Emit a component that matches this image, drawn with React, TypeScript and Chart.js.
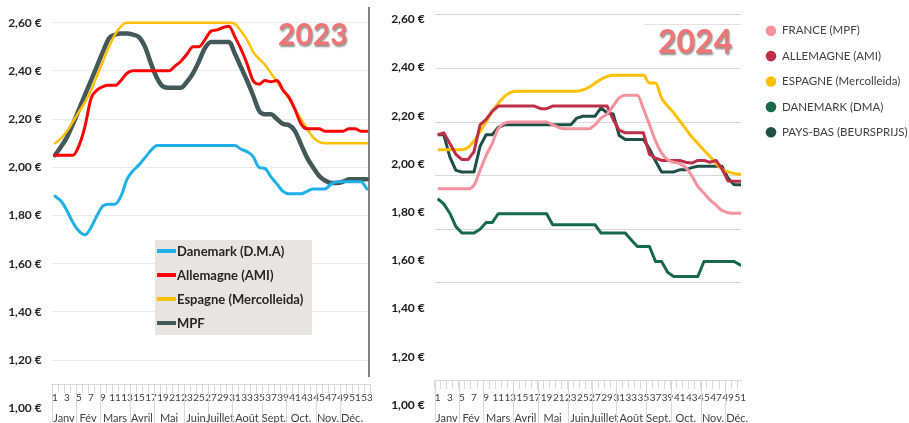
import React, { useEffect, useRef } from 'react';
import { Chart, registerables } from 'chart.js';

Chart.register(...registerables);

// ---------- shared categories ----------
const MONTHS = ['Janv', 'Fév', 'Mars', 'Avril', 'Mai', 'Juin', 'Juillet', 'Août', 'Sept.', 'Oct.', 'Nov.', 'Déc.'];
const MONTH_WEEKS = [4, 4, 5, 4, 5, 4, 4, 5, 4, 5, 4, 4];
const Y_TICKS = [1.0, 1.2, 1.4, 1.6, 1.8, 2.0, 2.2, 2.4, 2.6];
const GRID_TICKS_2024 = [1.6, 1.8, 2.0, 2.2, 2.4, 2.6];

// ---------- 2023 (left) ----------
const WEEKS_2023 = [1, 2, 3, 4, 5, 6, 7, 8, 9, 10, 11, 12, 13, 14, 15, 16, 17, 18, 19, 20, 21, 22, 23, 24, 25, 26, 27, 28, 29, 30, 31, 32, 33, 34, 35, 36, 37, 38, 39, 40, 41, 42, 43, 44, 45, 46, 47, 48, 49, 50, 51, 52, 53];
const DANEMARK_2023 = [1.88, 1.86, 1.82, 1.77, 1.735, 1.72, 1.75, 1.80, 1.84, 1.847, 1.847, 1.88, 1.95, 1.985, 2.01, 2.04, 2.07, 2.09, 2.09, 2.09, 2.09, 2.09, 2.09, 2.09, 2.09, 2.09, 2.09, 2.09, 2.09, 2.09, 2.09, 2.075, 2.065, 2.045, 2.0, 1.995, 1.96, 1.93, 1.90, 1.89, 1.89, 1.89, 1.90, 1.91, 1.91, 1.91, 1.93, 1.94, 1.94, 1.94, 1.94, 1.94, 1.91];
const ALLEMAGNE_2023 = [2.05, 2.05, 2.05, 2.05, 2.09, 2.17, 2.285, 2.32, 2.335, 2.34, 2.34, 2.36, 2.39, 2.40, 2.40, 2.40, 2.40, 2.40, 2.40, 2.40, 2.42, 2.44, 2.47, 2.50, 2.50, 2.53, 2.565, 2.57, 2.58, 2.585, 2.54, 2.49, 2.43, 2.36, 2.345, 2.36, 2.355, 2.36, 2.32, 2.29, 2.24, 2.18, 2.16, 2.16, 2.16, 2.15, 2.15, 2.15, 2.15, 2.16, 2.16, 2.15, 2.15];
const ESPAGNE_2023 = [2.10, 2.12, 2.15, 2.19, 2.23, 2.27, 2.32, 2.38, 2.44, 2.50, 2.55, 2.585, 2.60, 2.60, 2.60, 2.60, 2.60, 2.60, 2.60, 2.60, 2.60, 2.60, 2.60, 2.60, 2.60, 2.60, 2.60, 2.60, 2.60, 2.60, 2.595, 2.565, 2.53, 2.48, 2.45, 2.425, 2.39, 2.355, 2.32, 2.285, 2.24, 2.20, 2.16, 2.125, 2.105, 2.10, 2.10, 2.10, 2.10, 2.10, 2.10, 2.10, 2.10];
const MPF_2023 = [2.05, 2.085, 2.125, 2.18, 2.24, 2.30, 2.36, 2.42, 2.48, 2.535, 2.55, 2.555, 2.555, 2.55, 2.54, 2.50, 2.43, 2.37, 2.335, 2.33, 2.33, 2.33, 2.355, 2.39, 2.44, 2.495, 2.52, 2.52, 2.52, 2.52, 2.47, 2.415, 2.36, 2.30, 2.235, 2.22, 2.22, 2.20, 2.18, 2.175, 2.15, 2.095, 2.04, 2.0, 1.965, 1.945, 1.935, 1.935, 1.94, 1.95, 1.95, 1.95, 1.95];

// ---------- 2024 (right) ----------
const WEEKS_2024 = [1, 2, 3, 4, 5, 6, 7, 8, 9, 10, 11, 12, 13, 14, 15, 16, 17, 18, 19, 20, 21, 22, 23, 24, 25, 26, 27, 28, 29, 30, 31, 32, 33, 34, 35, 36, 37, 38, 39, 40, 41, 42, 43, 44, 45, 46, 47, 48, 49, 50, 51, 52];
const FRANCE_2024 = [1.951, 1.951, 1.951, 1.951, 1.951, 1.951, 1.965, 2.02, 2.075, 2.12, 2.175, 2.195, 2.20, 2.20, 2.20, 2.20, 2.20, 2.20, 2.20, 2.19, 2.18, 2.175, 2.175, 2.175, 2.175, 2.175, 2.19, 2.215, 2.23, 2.26, 2.29, 2.30, 2.30, 2.30, 2.25, 2.19, 2.13, 2.085, 2.06, 2.05, 2.045, 2.03, 2.0, 1.96, 1.935, 1.91, 1.89, 1.87, 1.862, 1.86, 1.86, 1.86];
const ALLEMAGNE_2024 = [2.153, 2.16, 2.12, 2.08, 2.06, 2.06, 2.09, 2.19, 2.21, 2.24, 2.26, 2.26, 2.26, 2.26, 2.26, 2.26, 2.26, 2.25, 2.25, 2.26, 2.26, 2.26, 2.26, 2.26, 2.26, 2.26, 2.26, 2.26, 2.26, 2.21, 2.17, 2.16, 2.16, 2.16, 2.16, 2.08, 2.065, 2.057, 2.057, 2.057, 2.057, 2.05, 2.047, 2.057, 2.057, 2.05, 2.057, 2.025, 1.98, 1.979, 1.979, 1.979];
const ESPAGNE_2024 = [2.097, 2.097, 2.097, 2.097, 2.097, 2.105, 2.13, 2.165, 2.20, 2.24, 2.27, 2.295, 2.31, 2.315, 2.315, 2.315, 2.315, 2.315, 2.315, 2.315, 2.315, 2.315, 2.315, 2.315, 2.32, 2.33, 2.345, 2.36, 2.37, 2.375, 2.375, 2.375, 2.375, 2.375, 2.375, 2.346, 2.346, 2.29, 2.26, 2.235, 2.205, 2.175, 2.145, 2.12, 2.095, 2.072, 2.045, 2.025, 2.014, 2.008, 2.005, 2.0];
const DANEMARK_2024 = [1.914, 1.895, 1.86, 1.81, 1.786, 1.786, 1.786, 1.80, 1.825, 1.825, 1.858, 1.858, 1.858, 1.858, 1.858, 1.858, 1.858, 1.858, 1.858, 1.817, 1.817, 1.817, 1.817, 1.817, 1.817, 1.817, 1.817, 1.786, 1.786, 1.786, 1.786, 1.786, 1.76, 1.736, 1.736, 1.736, 1.68, 1.68, 1.64, 1.624, 1.624, 1.624, 1.624, 1.624, 1.68, 1.68, 1.68, 1.68, 1.68, 1.68, 1.667, 1.667];
const PAYS_BAS_2024 = [2.153, 2.153, 2.07, 2.02, 2.014, 2.014, 2.014, 2.11, 2.153, 2.153, 2.18, 2.19, 2.19, 2.19, 2.19, 2.19, 2.19, 2.19, 2.19, 2.19, 2.19, 2.19, 2.19, 2.215, 2.222, 2.222, 2.222, 2.253, 2.234, 2.23, 2.15, 2.135, 2.135, 2.135, 2.135, 2.10, 2.055, 2.014, 2.014, 2.014, 2.022, 2.022, 2.03, 2.035, 2.035, 2.035, 2.035, 2.035, 1.99, 1.966, 1.966, 1.966];

const AXIS_CROSS = 1.1;
const RIGHT_CANVAS_LEFT = 372;

const fmtEuro = (v: number) => v.toFixed(2).replace('.', ',') + ' €';
const pts = (weeks: number[], vals: number[]) => weeks.map((w, i) => ({ x: w, y: vals[i] }));

function drawMonths(chart: any) {
  const { ctx, chartArea } = chart;
  const x = chart.scales.x;
  const y = chart.scales.y;
  const axisY = Math.round(y.getPixelForValue(AXIS_CROSS)) + 0.5;
  ctx.save();
  ctx.strokeStyle = '#d9d9d9';
  ctx.lineWidth = 1;
  ctx.fillStyle = '#404040';
  ctx.font = '11px Lato';
  ctx.textAlign = 'center';
  ctx.textBaseline = 'middle';
  let start = 1;
  MONTH_WEEKS.forEach((n, i) => {
    const end = start + n - 1;
    const left = x.getPixelForValue(start - 0.5);
    const right = x.getPixelForValue(end + 0.5);
    if (left >= chartArea.left - 1 && left <= chartArea.right + 1) {
      const sx = Math.round(left) + 0.5;
      ctx.beginPath();
      ctx.moveTo(sx, axisY);
      ctx.lineTo(sx, chart.height);
      ctx.stroke();
    }
    ctx.fillText(MONTHS[i], (left + right) / 2, chart.height - 5);
    start = end + 1;
  });
  ctx.restore();
}

function drawTitle(ctx: CanvasRenderingContext2D, text: string, x: number, baseline: number, size: number) {
  ctx.save();
  ctx.font = `bold ${size}px Lato`;
  ctx.textAlign = 'left';
  ctx.textBaseline = 'alphabetic';
  ctx.shadowColor = 'rgba(0,0,0,0.45)';
  ctx.shadowOffsetX = 1;
  ctx.shadowOffsetY = 1.5;
  ctx.shadowBlur = 2;
  ctx.fillStyle = '#f07474';
  ctx.fillText(text, x, baseline);
  ctx.restore();
}

const decorLeft = {
  id: 'decorLeft',
  afterDraw(chart: any) {
    const { ctx, chartArea } = chart;
    const y = chart.scales.y;
    drawMonths(chart);
    // right frame line
    ctx.save();
    ctx.strokeStyle = '#5a5a5a';
    ctx.lineWidth = 1.5;
    ctx.beginPath();
    ctx.moveTo(chartArea.right - 1, chartArea.top);
    ctx.lineTo(chartArea.right - 1, y.getPixelForValue(1.13));
    ctx.stroke();
    ctx.restore();
    drawTitle(ctx, '2023', 278, 45, 30);
    // legend box
    ctx.save();
    ctx.fillStyle = '#e7e4e1';
    ctx.fillRect(155, 240, 157, 95);
    chart.data.datasets.forEach((ds: any, i: number) => {
      const cy = 251 + i * 24;
      ctx.strokeStyle = ds.borderColor;
      ctx.lineWidth = 4;
      ctx.beginPath();
      ctx.moveTo(157, cy);
      ctx.lineTo(176, cy);
      ctx.stroke();
      ctx.fillStyle = '#262626';
      ctx.font = 'bold 13px Lato';
      ctx.textAlign = 'left';
      ctx.textBaseline = 'middle';
      ctx.fillText(ds.label, 177, cy + 0.5);
    });
    ctx.restore();
  },
};

const decorRight = {
  id: 'decorRight',
  afterDraw(chart: any) {
    const { ctx } = chart;
    drawMonths(chart);
    // title box top edge
    ctx.save();
    ctx.strokeStyle = '#e3e3e3';
    ctx.lineWidth = 1;
    ctx.beginPath();
    ctx.moveTo(644 - RIGHT_CANVAS_LEFT, 24.5);
    ctx.lineTo(741 - RIGHT_CANVAS_LEFT, 24.5);
    ctx.stroke();
    ctx.restore();
    drawTitle(ctx, '2024', 658 - RIGHT_CANVAS_LEFT, 53, 32);
    // legend
    ctx.save();
    chart.data.datasets.forEach((ds: any, i: number) => {
      const cy = 30.7 + i * 25.4;
      ctx.fillStyle = ds.borderColor;
      ctx.beginPath();
      ctx.arc(771 - RIGHT_CANVAS_LEFT, cy, 5.3, 0, Math.PI * 2);
      ctx.fill();
      ctx.fillStyle = '#404040';
      ctx.font = '11.5px Lato';
      ctx.textAlign = 'left';
      ctx.textBaseline = 'middle';
      ctx.fillText(ds.label, 782 - RIGHT_CANVAS_LEFT, cy);
    });
    ctx.restore();
  },
};

function xScale(weeks: number[], min: number, max: number, labelPad: number) {
  return {
    type: 'linear',
    position: { y: AXIS_CROSS },
    min,
    max,
    afterBuildTicks: (s: any) => {
      s.ticks = weeks.map((w) => ({ value: w }));
    },
    afterFit: (s: any) => {
      s.paddingLeft = 0;
      s.paddingRight = 0;
    },
    ticks: {
      autoSkip: false,
      maxRotation: 0,
      minRotation: 0,
      padding: labelPad,
      color: '#404040',
      font: { family: 'Lato', size: 10 },
      callback: (v: number) => (v % 2 === 1 ? String(v) : ''),
    },
    grid: { drawOnChartArea: false, drawTicks: true, tickLength: 8, color: '#d9d9d9', offset: true },
    border: { display: true, color: '#d9d9d9', width: 1 },
  };
}

function leftConfig(): any {
  const line = (label: string, vals: number[], color: string, width: number) => ({
    label,
    data: pts(WEEKS_2023, vals),
    borderColor: color,
    backgroundColor: color,
    borderWidth: width,
    pointRadius: 0,
    cubicInterpolationMode: 'monotone',
    borderCapStyle: 'round',
    borderJoinStyle: 'round',
  });
  return {
    type: 'line',
    data: {
      datasets: [
        line('Danemark (D.M.A)', DANEMARK_2023, '#1fb0ea', 3),
        line('Allemagne (AMI)', ALLEMAGNE_2023, '#ff0000', 3),
        line('Espagne (Mercolleida)', ESPAGNE_2023, '#ffc000', 2.5),
        line('MPF', MPF_2023, '#435858', 4.5),
      ],
    },
    options: {
      animation: false,
      responsive: false,
      maintainAspectRatio: false,
      layout: { padding: { left: 0, right: 2, top: 7, bottom: 14.7 } },
      plugins: { legend: { display: false }, tooltip: { enabled: false } },
      scales: {
        x: xScale(WEEKS_2023, 0.45, 53.5, 0),
        y: {
          min: 1.0,
          max: 2.665,
          afterBuildTicks: (s: any) => {
            s.ticks = Y_TICKS.map((v) => ({ value: v }));
          },
          afterFit: (s: any) => {
            s.width = 51.7;
            s.paddingTop = 0;
            s.paddingBottom = 0;
          },
          ticks: {
            padding: 10,
            color: '#262626',
            font: { family: 'Lato', size: 12, weight: 'bold' },
            callback: (v: number) => fmtEuro(v),
          },
          grid: {
            drawTicks: false,
            color: (c: any) => (c.tick && c.tick.value > 1.05 ? '#ebebeb' : 'rgba(0,0,0,0)'),
          },
          border: { display: false },
        },
      },
    },
    plugins: [decorLeft],
  };
}

function rightConfig(): any {
  const line = (label: string, vals: number[], color: string, smooth: boolean) => ({
    label,
    data: pts(WEEKS_2024, vals),
    yAxisID: 'y2',
    borderColor: color,
    backgroundColor: color,
    borderWidth: 3,
    pointRadius: 0,
    cubicInterpolationMode: smooth ? 'monotone' : 'default',
    tension: 0,
    borderJoinStyle: 'round',
  });
  return {
    type: 'line',
    data: {
      datasets: [
        line('FRANCE (MPF)', FRANCE_2024, '#f4929d', true),
        line('ALLEMAGNE (AMI)', ALLEMAGNE_2024, '#be2f47', false),
        line('ESPAGNE (Mercolleida)', ESPAGNE_2024, '#ffc000', true),
        line('DANEMARK (DMA)', DANEMARK_2024, '#17694c', false),
        line('PAYS-BAS (BEURSPRIJS)', PAYS_BAS_2024, '#1d4f45', false),
      ],
    },
    options: {
      animation: false,
      responsive: false,
      maintainAspectRatio: false,
      layout: { padding: { left: 0, right: 168, top: 14.9, bottom: 18 } },
      plugins: { legend: { display: false }, tooltip: { enabled: false } },
      scales: {
        x: xScale(WEEKS_2024, 0.5, 51.13, 3),
        y: {
          position: 'left',
          min: 1.0,
          max: 2.6187,
          afterBuildTicks: (s: any) => {
            s.ticks = Y_TICKS.map((v) => ({ value: v }));
          },
          afterFit: (s: any) => {
            s.width = 62.7;
            s.paddingTop = 0;
            s.paddingBottom = 0;
          },
          ticks: {
            padding: 10,
            color: '#1a1a1a',
            font: { family: 'Lato', size: 12, weight: 'bold' },
            callback: (v: number) => fmtEuro(v),
          },
          grid: { display: false, drawTicks: false },
          border: { display: false },
        },
        y2: {
          position: 'left',
          min: 1.1444,
          max: 2.6,
          afterBuildTicks: (s: any) => {
            s.ticks = GRID_TICKS_2024.map((v) => ({ value: v }));
          },
          afterFit: (s: any) => {
            s.width = 0;
            s.paddingTop = 0;
            s.paddingBottom = 0;
          },
          ticks: { display: false },
          grid: { drawTicks: false, color: '#d9d9d9' },
          border: { display: false },
        },
      },
    },
    plugins: [decorRight],
  };
}

export default function App() {
  const leftRef = useRef<HTMLCanvasElement>(null);
  const rightRef = useRef<HTMLCanvasElement>(null);
  useEffect(() => {
    const c1 = new Chart(leftRef.current as HTMLCanvasElement, leftConfig());
    const c2 = new Chart(rightRef.current as HTMLCanvasElement, rightConfig());
    return () => {
      c1.destroy();
      c2.destroy();
    };
  }, []);
  return (
    <div style={{ position: 'absolute', left: 0, top: 0, width: 909, height: 423, background: '#ffffff', overflow: 'hidden' }}>
      <canvas ref={leftRef} width={372} height={423} style={{ position: 'absolute', left: 0, top: 0, width: 372, height: 423 }} />
      <canvas ref={rightRef} width={537} height={423} style={{ position: 'absolute', left: RIGHT_CANVAS_LEFT, top: 0, width: 537, height: 423 }} />
    </div>
  );
}
